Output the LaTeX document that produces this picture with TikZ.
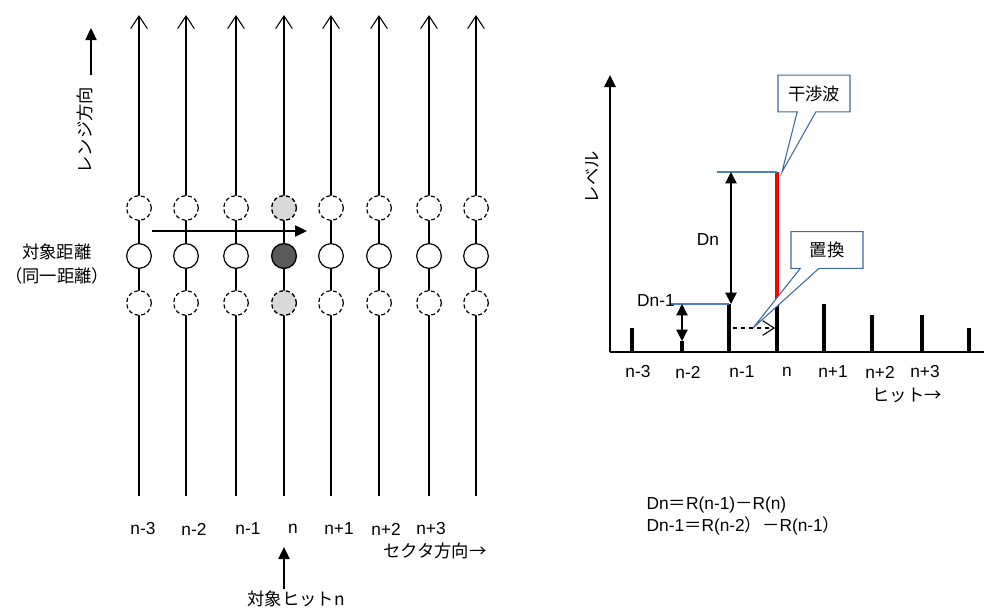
\documentclass[tikz,border=0pt]{standalone}
\usepackage{fontspec}
\setmainfont{Liberation Sans}
\newfontfamily\jp{Noto Sans CJK JP}
\usetikzlibrary{arrows.meta}
\usetikzlibrary{shapes.callouts}
\usetikzlibrary{positioning}

\definecolor{calloutblue}{RGB}{65,105,160}
\definecolor{levelblue}{RGB}{79,129,189}
\definecolor{lightshade}{RGB}{217,217,217}
\definecolor{darkshade}{RGB}{89,89,89}

\tikzset{
  txt/.style={inner sep=1pt, font=\fontsize{13pt}{16pt}\selectfont},
  hitc/.style={circle, draw, fill=white, minimum size=18.5pt, inner sep=0pt, line width=0.9pt},
  ghostc/.style={hitc, dashed, dash pattern=on 3pt off 2pt},
  sector/.style={line width=0.8pt, -{Straight Barb[length=9.5pt, width=12.5pt, line width=0.8pt]}},
  solidtip/.style={line width=0.9pt, -{Triangle[length=9pt, width=8.5pt]}},
  dimarrow/.style={line width=0.9pt, {Triangle[length=8.5pt, width=8.5pt]}-{Triangle[length=8.5pt, width=8.5pt]}},
  bar/.style={line width=3.6pt},
  bubble/.style={rectangle callout, draw=calloutblue, fill=white, line width=0.8pt,
    minimum width=54pt, minimum height=27.5pt, callout pointer width=14pt,
    font=\fontsize{13pt}{16pt}\selectfont\jp}
}

\begin{document}
\begin{tikzpicture}[x=0.75pt, y=-0.75pt]
  \useasboundingbox (0,0) rectangle (984,608);

  % --- left: sectors and range cells ---
  \foreach \x [count=\i] in {139,186,236,284,331,379,429,476} {
    \coordinate (bot\i) at (\x,496);
    \coordinate (top\i) at (\x,15);
    \draw[sector] (bot\i) -- (top\i);
    \node[ghostc] (up\i) at (\x,208) {};
    \node[hitc] (mid\i) at (\x,256) {};
    \node[ghostc] (lo\i) at (\x,303) {};
  }
  % target hit n
  \node[ghostc, fill=lightshade] at (up4) {};
  \node[hitc, fill=darkshade] at (mid4) {};
  \node[ghostc, fill=lightshade] at (lo4) {};

  % scan arrow
  \coordinate (scanA) at (152,231);
  \coordinate (scanB) at (307,231);
  \draw[solidtip] (scanA) -- (scanB);

  % range direction
  \coordinate (rngA) at (91,75);
  \coordinate (rngB) at (91,28);
  \draw[solidtip] (rngA) -- (rngB);
  \node[txt, rotate=90] (rnglbl) at (85,130) {\jp レンジ方向};

  \node[txt, align=center, font=\fontsize{13pt}{17.5pt}\selectfont\jp] (dist) at (57,264) {対象距離\\（同一距離）};

  % sector labels
  \foreach \x/\t [count=\i] in {143/n-3,194/n-2,248/n-1,293/n,339/n+1,386/n+2,431/n+3}
    \node[txt] (sl\i) at (\x,529) {\t};
  \node[txt] (secdir) at (435,551) {\jp セクタ方向→};

  \node[txt] (tgt) at (296,599) {\jp 対象ヒットn};
  \coordinate (tgtA) at (284,547);
  \draw[solidtip] (tgt.north -| tgtA) -- (tgtA);

  % --- right: level per hit ---
  \coordinate (org) at (610,352);
  \coordinate (yend) at (610,75);
  \coordinate (xend) at (984,352);
  \draw[line width=1.3pt] (org) -- (xend);
  \draw[line width=1.3pt, -{Triangle[length=9pt, width=8.5pt]}] (org) -- (yend);
  \node[txt, rotate=90] (lvl) at (592,177) {\jp レベル};

  % interference (red) on hit n
  \coordinate (redtop) at (777,172);
  \draw[bar, red] (777,304) -- (redtop);
  \foreach \x/\h [count=\i] in {632/328,682/341,729/304,777/304,824/304,872/315,922/315,969/328} {
    \coordinate (bt\i) at (\x,\h);
    \draw[bar] (\x,352) -- (bt\i);
  }

  % level references
  \coordinate (refA) at (717,172);
  \coordinate (refB) at (670,304);
  \draw[levelblue, line width=0.8pt] (refA) -- (redtop);
  \draw[levelblue, line width=0.8pt] (refB) -- (bt3);

  % differences
  \coordinate (dnT) at (731,172);
  \coordinate (dnB) at (731,304);
  \draw[dimarrow] (dnT) -- (dnB);
  \node[txt] (dn) at (708,240) {Dn};
  \coordinate (dmT) at (682,304);
  \draw[dimarrow] (dmT) -- (bt2);
  \node[txt] (dm) at (656,301) {Dn-1};

  % replacement
  \coordinate (repA) at (733,328);
  \coordinate (repB) at (775,328);
  \draw[dashed, line width=0.8pt, -{Straight Barb[length=8.5pt, width=11pt, line width=0.8pt]}] (repA) -- (repB);

  % callouts
  \coordinate (kanTip) at (782,172);
  \node[bubble, callout absolute pointer={(kanTip)}] (kan) at (814,93.5) {干渉波};
  \coordinate (chiTip) at (753,328);
  \node[bubble, callout absolute pointer={(chiTip)}] (chi) at (827,250) {置換};

  % hit labels
  \foreach \x/\t [count=\i] in {638/n-3,688/n-2,742/n-1,787/n,833/n+1,880/n+2,925/n+3}
    \node[txt] (hl\i) at (\x,372) {\t};
  \node[txt] (hitdir) at (907,395) {\jp ヒット→};

  % formulas
  \node[txt, anchor=west, align=left, font=\fontsize{13pt}{16.5pt}\selectfont] (eq) at (645,516)
    {Dn{\jp ＝}R(n-1){\jp －}R(n)\\Dn-1{\jp ＝}R(n-2{\jp ）}{\jp －}R(n-1{\jp ）}};
\end{tikzpicture}
\end{document}
